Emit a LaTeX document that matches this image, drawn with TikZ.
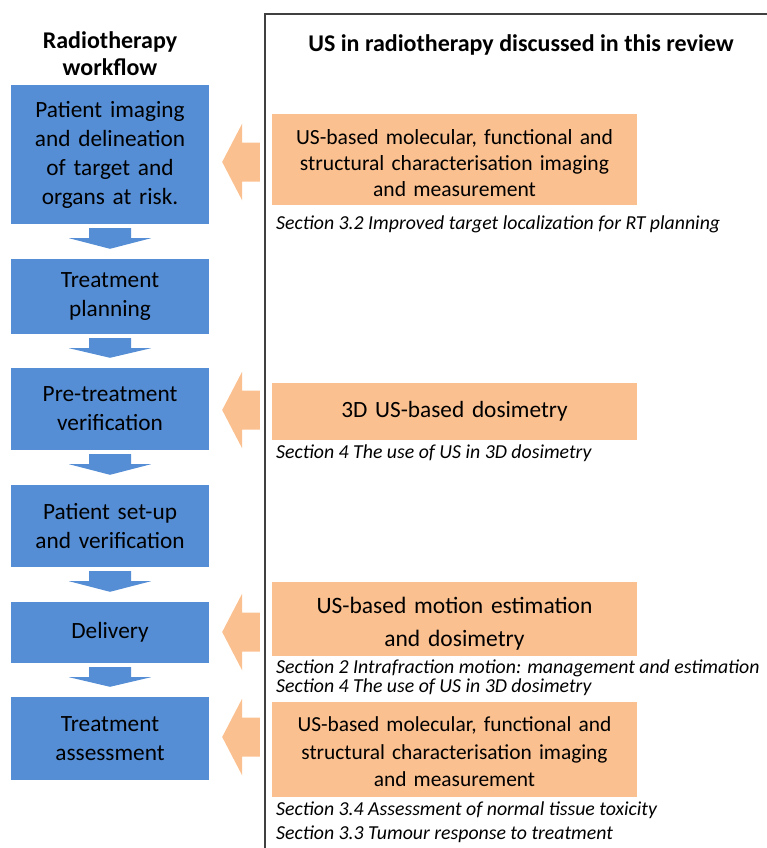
\documentclass[tikz,border=0pt]{standalone}
\usepackage{fontspec}
\setmainfont{Carlito}
\usetikzlibrary{calc}
\definecolor{bluebox}{RGB}{85,142,213}
\definecolor{orangebox}{RGB}{250,192,144}
\definecolor{panelline}{RGB}{64,64,64}
\tikzset{
  wf/.style={fill=bluebox, draw=none, minimum width=198pt, inner sep=0pt, align=center, text width=196pt,
    font=\fontsize{23.3}{29}\selectfont},
  us/.style={fill=orangebox, draw=none, minimum width=365pt, inner sep=0pt, align=center, text width=362pt,
    font=\fontsize{21.6}{26}\selectfont},
  sec/.style={anchor=west, inner sep=0pt, align=left, font=\fontsize{19.8}{19}\selectfont\itshape},
  ttl/.style={align=center, inner sep=0pt, font=\fontsize{24}{27}\selectfont\bfseries},
}
\newcommand{\downblk}[2]{%
  \fill[bluebox] ($(#1.south)+(-21,4)$) -- ($(#1.south)+(21,4)$) -- ($(#1.south)+(21,14)$)
    -- ($(#1.south)+(41,14)$) -- ($(#2.north)+(0,-10)$) -- ($(#1.south)+(-41,14)$)
    -- ($(#1.south)+(-21,14)$) -- cycle;}
\newcommand{\leftblk}[2]{%
  \fill[orangebox] ($(#1)+(13,0)$) -- ($(#1)+(33,-38.5)$) -- ($(#1)+(33,-19.5)$)
    -- ($(#2)+(-12,-19.5)$) -- ($(#2)+(-12,19.5)$) -- ($(#1)+(33,19.5)$)
    -- ($(#1)+(33,38.5)$) -- cycle;}
\begin{document}
\begin{tikzpicture}[x=1pt,y=-1pt]
\useasboundingbox (0,0) rectangle (766,848);
% panel
\coordinate (pr) at (767,14);
\coordinate (pc) at (265,14);
\coordinate (pb) at (265,849);
\draw[panelline, line width=1.4pt] (pr) -- (pc) -- (pb);
% titles
\node[ttl] (t1) at (110,53.5) {Radiotherapy\\workflow};
\node[ttl] (t2) at (521,45) {US in radiotherapy discussed in this review};
% workflow boxes
\node[wf, minimum height=139pt] (b1) at (110,154.5) {Patient imaging\\and delineation\\of target and\\organs at risk.};
\node[wf, minimum height=75pt] (b2) at (110,296.5) {Treatment\\planning};
\node[wf, minimum height=82pt] (b3) at (110,409) {Pre-treatment\\verification};
\node[wf, minimum height=82pt] (b4) at (110,526) {Patient set-up\\and verification};
\node[wf, minimum height=61pt] (b5) at (110,632.5) {Delivery};
\node[wf, minimum height=83pt] (b6) at (110,738.5) {Treatment\\assessment};
\downblk{b1}{b2}
\downblk{b2}{b3}
\downblk{b3}{b4}
\downblk{b4}{b5}
\downblk{b5}{b6}
% US boxes
\node[us, minimum height=91pt] (o1) at (454.5,159.5) {\rule{0pt}{23pt}US-based molecular, functional and\\structural characterisation imaging\\and measurement};
\node[us, minimum height=57pt, font=\fontsize{23.3}{28}\selectfont] (o2) at (454.5,411.5) {3D US-based dosimetry};
\node[us, minimum height=74pt, font=\fontsize{23.5}{33}\selectfont] (o3) at (454.5,619) {\rule{0pt}{26pt}US-based motion estimation\\and dosimetry};
\node[us, minimum height=95pt, font=\fontsize{21.4}{27.5}\selectfont] (o4) at (454.5,749.5) {\rule{0pt}{20pt}US-based molecular, functional and\\structural characterisation imaging\\and measurement};
% section labels
\node[sec] (s1) at (276,224) {Section 3.2 Improved target localization for RT planning};
\node[sec] (s2) at (276,453) {Section 4 The use of US in 3D dosimetry};
\node[sec] (s3) at (276,668) {Section 2 Intrafraction motion: management and estimation};
\node[sec] (s4) at (276,687) {Section 4 The use of US in 3D dosimetry};
\node[sec] (s5) at (276,810) {Section 3.4 Assessment of normal tissue toxicity};
\node[sec] (s6) at (276,834) {Section 3.3 Tumour response to treatment};
% left arrows
\coordinate (a1) at (b1.east |- 0,162);
\coordinate (c1) at (o1.west |- 0,162);
\coordinate (a2) at (b3.east |- 0,410);
\coordinate (c2) at (o2.west |- 0,410);
\coordinate (a3) at (b5.east |- 0,632);
\coordinate (c3) at (o3.west |- 0,632);
\coordinate (a4) at (b6.east |- 0,737);
\coordinate (c4) at (o4.west |- 0,737);
\leftblk{a1}{c1}
\leftblk{a2}{c2}
\leftblk{a3}{c3}
\leftblk{a4}{c4}
\end{tikzpicture}
\end{document}
